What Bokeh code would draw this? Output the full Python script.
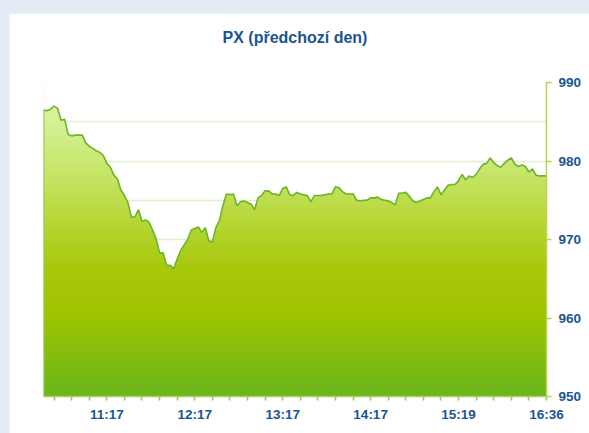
import numpy as np
from bokeh.plotting import figure
from bokeh.models import Range1d, FixedTicker, SingleIntervalTicker, Title
from bokeh.embed import file_html
from bokeh.resources import INLINE

# ---- data ----
px_values = [
    986.5, 986.4, 986.6, 987.0, 986.7, 985.2, 985.3, 983.4, 983.2, 983.3,
    983.3, 983.3, 982.3, 981.9, 981.6, 981.3, 981.1, 980.7, 979.7, 979.2,
    978.2, 977.7, 976.3, 975.6, 974.7, 972.8, 972.9, 973.8, 972.3, 972.5,
    972.2, 971.2, 970.1, 968.3, 968.3, 966.7, 966.7, 966.3, 967.5, 968.6,
    969.3, 970.0, 971.2, 971.4, 971.6, 970.9, 971.5, 969.8, 969.7, 971.5,
    972.4, 974.3, 975.8, 975.7, 975.8, 974.3, 974.8, 974.9, 974.7, 974.5,
    973.8, 975.3, 975.6, 976.2, 976.2, 975.8, 975.8, 975.6, 976.5, 976.7,
    975.7, 975.6, 976.0, 975.8, 975.7, 975.6, 974.8, 975.6, 975.6, 975.6,
    975.7, 975.8, 975.8, 976.7, 976.6, 976.1, 975.8, 975.8, 975.8, 975.0,
    974.9, 975.0, 975.0, 975.3, 975.3, 975.4, 975.1, 975.0, 974.9, 974.7,
    974.4, 975.9, 975.9, 976.0, 975.5, 974.9, 974.7, 974.9, 975.1, 975.3,
    975.3, 976.1, 976.7, 975.7, 976.3, 976.9, 977.0, 977.0, 977.5, 978.3,
    977.6, 978.1, 977.9, 978.3, 979.0, 979.6, 979.7, 980.4, 979.8, 979.4,
    979.2, 979.7, 980.1, 980.4, 979.6, 979.3, 979.5, 979.3, 978.6, 979.0,
    978.2, 978.1, 978.1, 978.1,
]
point_index = list(range(len(px_values)))
x_tick_positions = list(range(3, len(px_values), 5))
x_label_positions = [18, 43, 68, 93, 118, 143]
x_label_texts = ["11:17", "12:17", "13:17", "14:17", "15:19", "16:36"]
y_min, y_max = 950, 990
title_text = "PX (předchozí den)"

# ---- styling ----
TEXT_BLUE = "#1a5592"
FONT = "Liberation Sans"
grad_stops = [
    (950, (106, 182, 28)),
    (956, (138, 190, 12)),
    (961, (162, 196, 0)),
    (966, (168, 200, 12)),
    (972, (182, 214, 52)),
    (978, (198, 229, 102)),
    (985, (213, 242, 150)),
    (990, (224, 249, 174)),
]

p = figure(width=580, height=420, output_backend="svg", toolbar_location=None,
           x_range=Range1d(point_index[0], point_index[-1]),
           y_range=Range1d(y_min, y_max), y_axis_location="right",
           min_border_left=34, min_border_right=43, min_border_top=69,
           min_border_bottom=37)
p.background_fill_color = "white"
p.border_fill_color = "white"
p.outline_line_color = None

# title: an invisible spacer next to the frame, then the visible title
spacer = Title(text=" ", text_font_size="1px", standoff=34, text_color="white")
p.add_layout(spacer, "above")
p.add_layout(Title(text=title_text, align="center", text_font=FONT,
                   text_font_size="16px", text_font_style="bold",
                   text_color=TEXT_BLUE, standoff=0), "above")

# grid
p.xgrid.visible = False
p.ygrid.ticker = SingleIntervalTicker(interval=5)
p.ygrid.grid_line_color = "#e3eecf"
p.ygrid.grid_line_width = 1.5

# gradient-filled area as an RGBA raster (transparent above the line)
xs = np.array(point_index, dtype=float)
vals = np.array(px_values, dtype=float)
W, H = 1006, 628
xcol = xs[0] + (np.arange(W) + 0.5) / W * (xs[-1] - xs[0])
top = np.interp(xcol, xs, vals)
dy = (y_max - y_min) / H
yrow = y_min + (np.arange(H) + 0.5) * dy
sy = np.array([s[0] for s in grad_stops], dtype=float)
rgb = np.stack([np.interp(yrow, sy, [s[1][k] for s in grad_stops]) for k in range(3)], axis=1)
alpha = np.clip((top[None, :] - yrow[:, None]) / dy + 0.5, 0, 1)
img = np.empty((H, W), dtype=np.uint32)
view = img.view(dtype=np.uint8).reshape((H, W, 4))
view[..., 0] = rgb[:, 0][:, None].astype(np.uint8)
view[..., 1] = rgb[:, 1][:, None].astype(np.uint8)
view[..., 2] = rgb[:, 2][:, None].astype(np.uint8)
view[..., 3] = (alpha * 255).astype(np.uint8)
p.image_rgba(image=[img], x=xs[0], y=y_min, dw=xs[-1] - xs[0], dh=y_max - y_min)

p.segment(x0=[xs[0]], y0=[y_min], x1=[xs[0]], y1=[vals[0]],
          line_color="#8ccb46", line_width=2)
p.line(xs, vals, line_color="#6cb42a", line_width=1.6)

# y axis (right)
ya = p.yaxis[0]
ya.ticker = SingleIntervalTicker(interval=10, num_minor_ticks=0)
ya.axis_line_color = "#b6d64a"
ya.axis_line_width = 1.5
ya.major_tick_line_color = "#b6d64a"
ya.major_tick_line_width = 1.5
ya.major_tick_out = 5
ya.major_tick_in = 0
ya.minor_tick_line_color = None
ya.major_label_standoff = 7
ya.major_label_text_font = FONT
ya.major_label_text_font_size = "13.5px"
ya.major_label_text_font_style = "bold"
ya.major_label_text_color = TEXT_BLUE

# x axis (bottom)
xa = p.xaxis[0]
xa.ticker = FixedTicker(ticks=x_tick_positions, minor_ticks=[])
overrides = {t: "" for t in x_tick_positions}
for pos, txt in zip(x_label_positions, x_label_texts):
    overrides[pos] = txt
xa.major_label_overrides = overrides
xa.axis_line_color = "#a9d356"
xa.axis_line_width = 1.5
xa.major_tick_line_color = "#98cc48"
xa.major_tick_line_width = 1.5
xa.major_tick_out = 4
xa.major_tick_in = 0
xa.minor_tick_line_color = None
xa.major_label_standoff = 6
xa.major_label_text_font = FONT
xa.major_label_text_font_size = "13.5px"
xa.major_label_text_font_style = "bold"
xa.major_label_text_color = TEXT_BLUE

html = file_html(p, INLINE, title="PX")
html = html.replace(
    "</head>",
    "<style>html,body{overflow:hidden;}body{background:#e6ecf5;margin:13px 0 0 9px;}</style></head>",
    1,
)
open("out.html", "w").write(html)
